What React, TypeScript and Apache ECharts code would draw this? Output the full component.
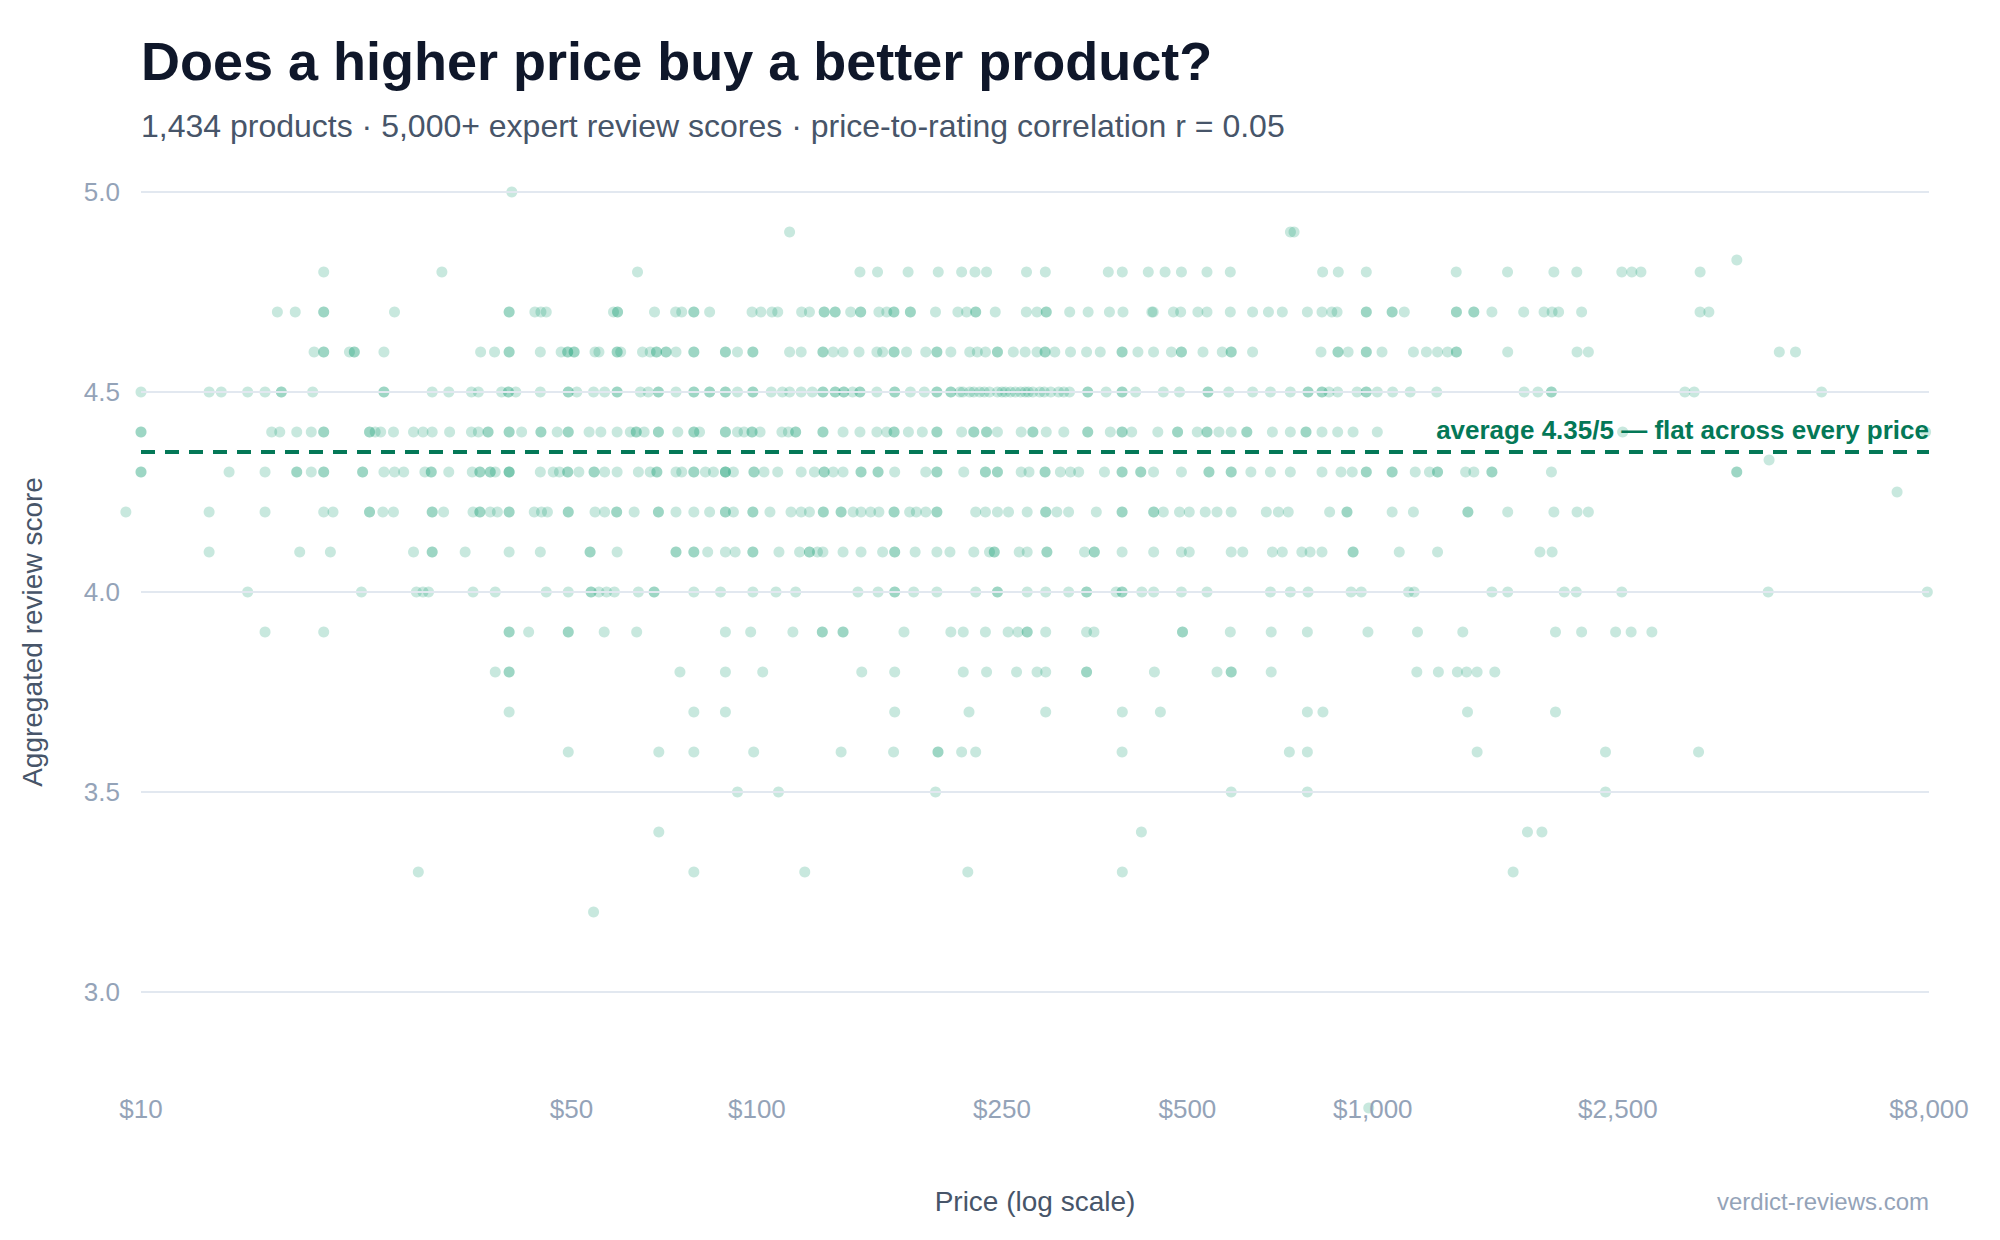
import * as echarts from "echarts";
import { useEffect, useRef } from "react";

const WIDTH = 2000;
const HEIGHT = 1240;
const FONT = '"Liberation Sans", Arial, Helvetica, sans-serif';

const TITLE = "Does a higher price buy a better product?";
const SUBTITLE =
  "1,434 products · 5,000+ expert review scores · price-to-rating correlation r = 0.05";
const X_NAME = "Price (log scale)";
const Y_NAME = "Aggregated review score";
const SOURCE = "verdict-reviews.com";
const AVG_SCORE = 4.35;
const AVG_LABEL = "average 4.35/5 — flat across every price";

const priceTicks = [10, 50, 100, 250, 500, 1000, 2500, 8000];
const scoreGrid = [3.0, 3.5, 4.0, 4.5, 5.0];

// product prices ($), grouped by aggregated review score
const prices50 = [40];
const prices49 = [113, 735, 745];
const prices483 = [3900];
const prices48 = [
  19.8, 30.8, 64, 147, 157, 176, 197, 215, 226, 236, 274, 294, 372, 392, 432,
  460, 489, 538, 587, 829, 879, 976, 1366, 1655, 1968, 2144, 2537, 2634, 2725,
  3400,
];
const prices47 = [
  16.65, 17.8, 19.8, 19.8, 25.8, 39.6, 39.6, 43.6, 44.6, 45.5, 58.5, 59.4, 59.4,
  68.2, 73.8, 75.5, 79, 79, 83.8, 98.2, 101.5, 105.8, 108.1, 118.2, 121.7,
  128.6, 128.6, 134, 134, 142, 147.4, 147.4, 157.8, 162.5, 166.9, 166.9, 177.5,
  177.5, 195, 212, 219, 226.6, 226.6, 243.8, 273.8, 285, 295, 295, 322, 345,
  373.6, 393, 437.8, 440, 474.6, 487.6, 520, 538, 587, 638, 677, 713, 783, 827,
  858, 875, 976, 976, 1075, 1075, 1125, 1367, 1367, 1459, 1459, 1561, 1758,
  1897, 1955, 2003, 2183, 3399, 3513,
];
const prices46 = [
  19.1, 19.8, 19.8, 21.8, 22.2, 22.2, 24.8, 35.6, 37.5, 39.6, 39.6, 44.5, 48.1,
  49.3, 49.3, 50.5, 50.5, 54.6, 55.4, 59.3, 59.3, 60.1, 65.2, 67.1, 68.7, 68.7,
  71.2, 71.2, 73.9, 79, 79, 88.9, 88.9, 93, 98.5, 98.5, 113, 118, 128, 128, 133,
  138, 146.5, 156.6, 160, 167, 167, 175, 188, 196, 196, 206.5, 221.6, 228, 235,
  245.8, 245.8, 260.8, 272.6, 285, 293.7, 293.7, 304.6, 323, 343, 361, 391.7,
  391.7, 415.6, 440.6, 471, 489, 489, 530, 569.6, 589, 589, 638, 824, 878, 878,
  912, 976, 976, 1035, 1164, 1222, 1274, 1323, 1367, 1367, 1656, 2146, 2239,
  4571, 4857,
];
const prices45 = [
  10, 12.9, 13.5, 14.9, 15.9, 16.9, 16.9, 19, 24.8, 24.8, 29.7, 31.6, 34.4,
  35.3, 38.5, 39.5, 39.5, 40.6, 44.5, 49.4, 49.4, 51, 54.3, 56.6, 59.3, 59.3,
  64.7, 66.6, 69.2, 69.2, 73.9, 79, 79, 83.8, 83.8, 88.9, 88.9, 93, 98.5, 98.5,
  105.5, 110, 113, 118, 123, 128, 128, 134, 134, 138.4, 138.4, 143, 147, 147,
  156.6, 167.4, 167.4, 177.5, 187, 196, 196, 206.5, 206.5, 213.6, 216, 221.6,
  225, 230, 234, 238.6, 245.8, 250, 253.3, 258, 262.8, 268, 272.6, 276, 280.6,
  288, 292.8, 300, 309, 315, 321.8, 344.5, 344.5, 369, 391.7, 391.7, 412, 457,
  485.5, 540, 540, 583.5, 638, 682, 734.7, 785, 785, 827, 827, 849, 877, 943,
  976, 976, 1017, 1077, 1150, 1270, 1761, 1854, 1950, 1950, 3212, 3325, 5355,
];
const prices44 = [
  10, 10, 16.3, 16.8, 17.9, 18.9, 19.8, 19.8, 23.5, 23.5, 24, 24.5, 25.7, 27.7,
  28.7, 29.7, 31.7, 34.4, 35.3, 36.6, 36.6, 39.6, 39.6, 41.5, 44.6, 44.6, 47.4,
  49.4, 49.4, 53.4, 55.8, 59.3, 62.3, 63.7, 63.7, 65.6, 69.2, 69.2, 74.4, 79,
  79, 80.7, 88.9, 88.9, 93, 95.3, 98.2, 98.2, 101.2, 109.8, 112.5, 115.6, 115.6,
  128, 128, 138, 147, 156.6, 162.5, 167, 167, 176.2, 185.6, 196, 196, 215, 225,
  225, 236, 236, 245.8, 268.6, 280.6, 280.6, 295, 315, 344.5, 344.5, 374.8,
  391.7, 391.7, 406, 447.7, 482, 482, 518.8, 538, 538, 562.6, 589, 624.4,
  624.4, 687, 734.7, 779, 779, 827, 877, 929, 1017, 2545, 7900,
];
const prices433 = [4400];
const prices43 = [
  10, 10, 13.9, 15.9, 17.9, 17.9, 18.9, 19.8, 19.8, 22.9, 22.9, 24.8, 25.8,
  26.7, 28.9, 29.6, 29.6, 31.6, 34.5, 35.5, 35.5, 36.9, 36.9, 37.6, 39.6, 39.6,
  39.6, 44.5, 46.7, 47.8, 49.3, 49.3, 51.4, 54.4, 54.4, 56.6, 59.3, 64.2, 67.1,
  68.8, 68.8, 73.9, 75.5, 79, 79, 82.5, 85, 88.9, 88.9, 88.9, 91.6, 98.9, 98.9,
  102.7, 108.1, 118, 124, 128.6, 128.6, 133, 138, 147.6, 147.6, 157.3, 157.3,
  167.4, 188, 196, 196, 216.7, 235, 235, 245.8, 245.8, 268.6, 276.6, 293.7,
  293.7, 311, 323, 333, 366.7, 391.7, 391.7, 420, 420, 440.6, 489, 542, 542,
  589, 589, 634, 682, 734.7, 827, 888, 926, 976, 976, 1075, 1075, 1172, 1236,
  1274, 1274, 1415, 1459, 1561, 1561, 1950, 3899, 3899,
];
const prices425 = [7100];
const prices42 = [
  9.45, 12.9, 15.9, 19.8, 20.5, 23.5, 23.5, 24.7, 25.7, 29.7, 29.7, 31, 34.6,
  35.5, 35.5, 36.9, 37.9, 39.6, 39.6, 43.5, 44.7, 45.7, 49.4, 49.4, 54.6, 56.6,
  59.2, 59.2, 63.2, 69.2, 69.2, 73.9, 79, 83.8, 88.9, 88.9, 91.6, 98.5, 98.5,
  105, 113.6, 118, 121.7, 128.2, 128.2, 137, 137, 143.3, 147.6, 153, 157.8, 167,
  167, 177, 181.5, 188, 196, 196, 226.6, 235, 245.8, 256.2, 274.7, 294.4, 294.4,
  306.9, 320.7, 355.7, 391.7, 391.7, 440.8, 440.8, 457, 485.5, 503.5, 534.5,
  558.6, 589, 671.6, 702.6, 729, 851, 908, 908, 1075, 1164, 1427, 1427, 1656,
  1968, 2146, 2239,
];
const prices41 = [
  12.9, 18.1, 20.3, 27.7, 29.7, 29.7, 33.6, 39.6, 44.5, 53.6, 53.6, 59.3, 73.9,
  73.9, 79, 79, 83.2, 88.9, 92.2, 98.5, 98.5, 108.6, 117.3, 121.7, 121.7, 125.4,
  128, 138, 147.6, 160, 167.4, 167.4, 180.7, 196, 205.8, 225, 238.6, 242.9,
  242.9, 266.6, 274.7, 295.7, 295.7, 340.4, 353.1, 353.1, 391.7, 440.8, 489,
  503.5, 589, 615, 687, 713, 767, 791, 827, 929, 929, 1104, 1274, 1868, 1955,
];
const prices40 = [
  14.9, 22.8, 28, 28.7, 29.3, 34.6, 37.6, 45.5, 49.4, 53.8, 53.8, 55.4, 57,
  58.7, 64.2, 68.1, 68.1, 79, 87.3, 98.5, 107.4, 115.6, 145.9, 157.3, 167.4,
  167.4, 179.7, 196, 226.6, 245.8, 245.8, 274.7, 294.4, 320.7, 343, 343, 383,
  391.7, 391.7, 421.7, 440.8, 489, 538, 682, 734.7, 785, 922, 958, 1143, 1167,
  1561, 1656, 2046, 2140, 2537, 4385, 7950,
];
const prices39 = [
  15.9, 19.8, 39.6, 39.6, 42.6, 49.4, 49.4, 56.5, 63.8, 88.9, 97.7, 114.4,
  127.7, 127.7, 138, 138, 173.3, 206.5, 216.3, 235, 255.8, 265.4, 274.7, 274.7,
  294.4, 343, 352.6, 491, 491, 587, 684, 783, 982, 1182, 1400, 1980, 2183, 2479,
  2627, 2839,
];
const prices38 = [
  37.6, 39.6, 39.6, 75, 88.9, 102.2, 148, 167.4, 216.3, 236, 264, 285, 294.4,
  343, 343, 442, 558.6, 589, 589, 684, 1179, 1278, 1372, 1420, 1477, 1578,
];
const prices37 = [39.6, 79, 88.9, 167.4, 221, 294.4, 392, 452, 783, 830, 1425, 1980];
const prices36 = [
  49.4, 69.3, 79, 98.8, 137, 166.7, 196.8, 196.8, 215, 226.6, 391.7, 732, 783,
  1477, 2387, 3380,
];
const prices35 = [93, 108.4, 195, 589, 783, 2387];
const prices34 = [69.3, 421, 1783, 1882];
const prices33 = [28.2, 79, 119.6, 220, 392, 1690];
const prices32 = [54.3];
const prices27 = [985];

const scoreRows: [number, number[]][] = [
  [5.0, prices50],
  [4.9, prices49],
  [4.83, prices483],
  [4.8, prices48],
  [4.7, prices47],
  [4.6, prices46],
  [4.5, prices45],
  [4.4, prices44],
  [4.33, prices433],
  [4.3, prices43],
  [4.25, prices425],
  [4.2, prices42],
  [4.1, prices41],
  [4.0, prices40],
  [3.9, prices39],
  [3.8, prices38],
  [3.7, prices37],
  [3.6, prices36],
  [3.5, prices35],
  [3.4, prices34],
  [3.3, prices33],
  [3.2, prices32],
  [2.71, prices27],
];

// x is drawn on a log10 value axis
const points: [number, number][] = [];
scoreRows.forEach(([score, prices]) => {
  prices.forEach((p) => points.push([Math.log10(p), score]));
});

const formatPrice = (v: number) =>
  "$" + Math.round(Math.pow(10, v)).toLocaleString("en-US");

const isHalfStep = (v: number) =>
  Math.abs(v * 2 - Math.round(v * 2)) < 1e-6 && v >= 3 && v <= 5;

function getOption() {
  return {
    animation: false,
    textStyle: { fontFamily: FONT },
    grid: { left: 141, right: 71, top: 172, bottom: 148 },
    xAxis: {
      type: "value",
      min: Math.log10(priceTicks[0]),
      max: Math.log10(priceTicks[priceTicks.length - 1]),
      z: 3,
      axisLine: { show: false },
      axisTick: { show: false },
      splitLine: { show: false },
      axisLabel: {
        customValues: priceTicks.map((p) => Math.log10(p)),
        formatter: formatPrice,
        color: "#94a3b8",
        fontSize: 26,
        margin: 4,
      },
      name: X_NAME,
      nameLocation: "middle",
      nameGap: 95,
      nameTextStyle: { color: "#475569", fontSize: 28 },
    },
    yAxis: {
      type: "value",
      min: 2.75,
      max: 5.05,
      interval: 0.25,
      axisLine: { show: false },
      axisTick: { show: false },
      splitLine: { show: false },
      axisLabel: {
        formatter: (v: number) => (isHalfStep(v) ? v.toFixed(1) : ""),
        color: "#94a3b8",
        fontSize: 26,
        margin: 21,
      },
      name: Y_NAME,
      nameLocation: "middle",
      nameGap: 95,
      nameTextStyle: { color: "#475569", fontSize: 28 },
    },
    series: [
      {
        // grid lines under the dots
        type: "scatter",
        data: [],
        z: 1,
        silent: true,
        markLine: {
          silent: true,
          symbol: "none",
          label: { show: false },
          lineStyle: { color: "#e2e8f0", width: 2, type: "solid" },
          data: scoreGrid.map((s) => ({ yAxis: s })),
        },
      },
      {
        type: "scatter",
        data: points,
        z: 2,
        symbolSize: 11,
        clip: false,
        progressive: 0,
        itemStyle: { color: "#059669", opacity: 0.22 },
      },
      {
        type: "scatter",
        data: [],
        z: 4,
        silent: true,
        markLine: {
          silent: true,
          symbol: "none",
          lineStyle: { color: "#047857", width: 4, type: [14, 10] },
          label: {
            show: true,
            position: "insideEndTop",
            distance: [0, 9],
            formatter: AVG_LABEL,
            color: "#047857",
            fontSize: 26,
            fontWeight: "bold",
            fontFamily: FONT,
          },
          data: [{ yAxis: AVG_SCORE }],
        },
      },
    ],
    graphic: [
      {
        type: "text",
        x: 141,
        y: 61,
        style: {
          text: TITLE,
          fontSize: 54,
          fontWeight: "bold",
          fontFamily: FONT,
          fill: "#0f172a",
          verticalAlign: "middle",
        },
      },
      {
        type: "text",
        x: 141,
        y: 126,
        style: {
          text: SUBTITLE,
          fontSize: 32,
          fontFamily: FONT,
          fill: "#475569",
          verticalAlign: "middle",
        },
      },
      {
        type: "text",
        x: 1929,
        y: 1201,
        style: {
          text: SOURCE,
          fontSize: 24,
          fontFamily: FONT,
          fill: "#94a3b8",
          align: "right",
          verticalAlign: "middle",
        },
      },
    ],
  };
}

export default function App() {
  const chartEl = useRef<HTMLDivElement>(null);

  useEffect(() => {
    document.body.style.margin = "0";
    if (!chartEl.current) return;
    const chart = echarts.init(chartEl.current, undefined, { renderer: "svg" });
    chart.setOption(getOption());
    return () => {
      chart.dispose();
    };
  }, []);

  return (
    <div
      ref={chartEl}
      style={{ width: WIDTH, height: HEIGHT, background: "#ffffff" }}
    />
  );
}
